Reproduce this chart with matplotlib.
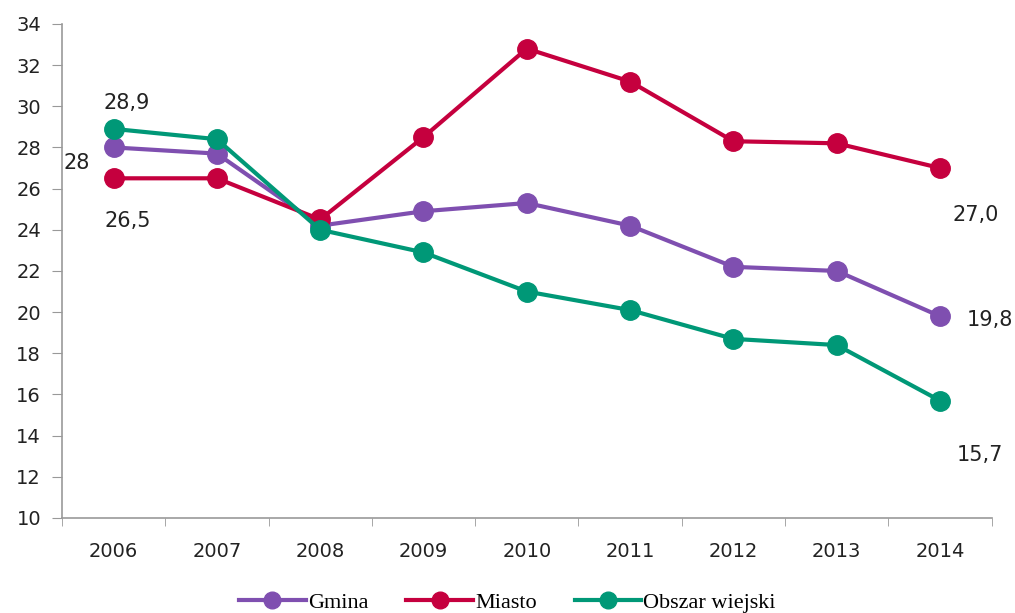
import matplotlib
matplotlib.use("Agg")
import matplotlib.pyplot as plt
import numpy as np

# Data
years = ["2006", "2007", "2008", "2009", "2010", "2011", "2012", "2013", "2014"]
gmina = [28.0, 27.7, 24.2, 24.9, 25.3, 24.2, 22.2, 22.0, 19.8]
miasto = [26.5, 26.5, 24.5, 28.5, 32.8, 31.2, 28.3, 28.2, 27.0]
obszar = [28.9, 28.4, 24.0, 22.9, 21.0, 20.1, 18.7, 18.4, 15.7]

series_names = ["Gmina", "Miasto", "Obszar wiejski"]
colors = ["#7f4fb0", "#c5003e", "#009877"]

fig = plt.figure(figsize=(10.15, 6.13), dpi=100)
ax = fig.add_axes([0.061, 0.155, 0.916, 0.806])

x = np.arange(len(years))
for vals, name, c in zip([gmina, miasto, obszar], series_names, colors):
    ax.plot(x, vals, color=c, lw=3, marker="o", ms=14, label=name)

ax.set_xlim(-0.5, len(years) - 0.5)
ax.set_ylim(10, 34)
ax.set_yticks(np.arange(10, 35, 2))
ax.set_xticks(x)
ax.set_xticklabels(years)
ax.set_xticks(np.arange(-0.5, len(years), 1), minor=True)
ax.tick_params(axis="x", which="major", length=0, pad=17)
ax.tick_params(axis="x", which="minor", length=6, color="#999999", direction="out")
ax.tick_params(axis="y", length=7, color="#999999", pad=8)
for lab in ax.get_xticklabels() + ax.get_yticklabels():
    lab.set_fontsize(14)
    lab.set_color("#222222")

for s in ["top", "right"]:
    ax.spines[s].set_visible(False)
for s in ["left", "bottom"]:
    ax.spines[s].set_color("#999999")
    ax.spines[s].set_linewidth(1.2)

# data labels
lab_kw = dict(fontsize=15, color="#222222", ha="center", va="center")
ax.text(0.13, 30.15, "28,9", **lab_kw)
ax.text(-0.36, 27.25, "28", **lab_kw)
ax.text(0.14, 24.45, "26,5", **lab_kw)
ax.text(8.35, 24.7, "27,0", **lab_kw)
ax.text(8.48, 19.6, "19,8", **lab_kw)
ax.text(8.39, 13.05, "15,7", **lab_kw)

leg = fig.legend(loc="lower center", ncol=3, frameon=False,
                 bbox_to_anchor=(0.5, -0.032), handlelength=3.0,
                 columnspacing=1.7, handletextpad=0.1,
                 prop={"family": "Liberation Serif", "size": 16})
for h in leg.legend_handles:
    h.set_markersize(12)

fig.savefig("out.png", dpi=100)
